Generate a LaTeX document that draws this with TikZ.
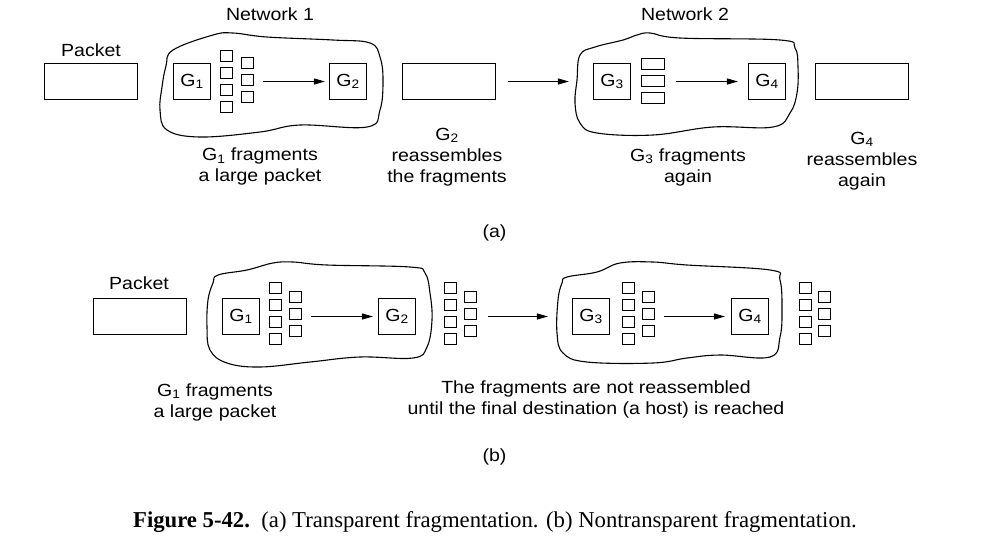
\documentclass[tikz,border=0pt]{standalone}
\usepackage{fontspec}
\setmainfont{Liberation Sans}[FakeStretch=1.11]
\newfontfamily\capfont{Liberation Serif}
\usetikzlibrary{positioning,arrows.meta}

\begin{document}
\begin{tikzpicture}[x=1pt,y=-1pt,line width=1.1pt,font=\fontsize{17.6}{21}\selectfont,>={Triangle[length=11pt,width=6pt]}]
	\tikzstyle{pbox}=[draw, minimum width=93pt, minimum height=36pt, inner sep=0pt]
	\tikzstyle{gw}=[draw, minimum width=37pt, minimum height=36pt, inner sep=0pt]
	\tikzstyle{frag}=[draw, minimum width=12pt, minimum height=11pt, inner sep=0pt]
	\tikzstyle{wfrag}=[draw, minimum width=23pt, minimum height=11pt, inner sep=0pt]
	\tikzstyle{lbl}=[anchor=base, align=center, inner sep=0pt]
	\tikzstyle{cloud}=[draw, smooth cycle, tension=0.65]
	\useasboundingbox (0,0) rectangle (993,542);
	% (a) transparent
		\draw plot[cloud] coordinates {(173,50) (213,35) (233,33) (267,37) (333,40) (370,43) (380,57) (383,80) (380,110) (367,127) (300,125) (260,132) (200,137) (167,130) (160,110) (162,87) (166,66)};
		\draw plot[cloud] coordinates {(580,55) (595,47) (623,40) (637,35) (650,33) (680,38) (780,40) (795,48) (798,67) (797,93) (790,113) (773,127) (713,127) (653,135) (597,133) (580,123) (575,103) (577,80)};
		\node[pbox] (pa1) at (91,81.5) {};
		\node[lbl] (pa1l) at (91,56) {Packet};
		\node[gw] (g1a) at (192,81.5) {G\textsubscript{1}};
		\node[gw] (g2a) at (348,81.5) {G\textsubscript{2}};
		\node[pbox] (pa2) at (449,81.5) {};
		\node[gw] (g3a) at (612,81.5) {G\textsubscript{3}};
		\node[gw] (g4a) at (767,81.5) {G\textsubscript{4}};
		\node[pbox] (pa3) at (862,81.5) {};
		\node[frag] (a11) at (226.5,56) {};
		\node[frag] (a12) [below=4.9pt of a11] {};
		\node[frag] (a13) [below=4.9pt of a12] {};
		\node[frag] (a14) [below=4.9pt of a13] {};
		\node[frag] (a21) at (247.5,63) {};
		\node[frag] (a22) [below=4.9pt of a21] {};
		\node[frag] (a23) [below=4.9pt of a22] {};
		\node[wfrag] (w1) at (653,64) {};
		\node[wfrag] (w2) [below=4.9pt of w1] {};
		\node[wfrag] (w3) [below=4.9pt of w2] {};
			\draw[->, shorten <=9pt, shorten >=4pt] (a22.east |- g1a) -- (g2a);
			\draw[->, shorten <=12pt, shorten >=24pt] (pa2) -- (g3a);
			\draw[->, shorten <=11pt, shorten >=10pt] (w2.east |- g3a) -- (g4a);
			\node[lbl] (net1) at (270,20) {Network 1};
			\node[lbl] (net2) at (685,20) {Network 2};
			\node[lbl] (txa1) at (260,181.7) {G\textsubscript{1} fragments\\a large packet};
			\node[lbl] (txa2) at (447,182) {G\textsubscript{2}\\reassembles\\the fragments};
			\node[lbl] (txa3) at (688,182) {G\textsubscript{3} fragments\\again};
			\node[lbl] (txa4) at (862,186) {G\textsubscript{4}\\reassembles\\again};
			\node[lbl] (capa) at (494.5,237) {(a)};
	% (b) nontransparent
		\draw plot[cloud] coordinates {(218,275) (247,270) (273,263) (293,262) (327,265) (410,267) (425,273) (430,293) (432,320) (427,347) (413,358) (360,357) (310,362) (260,367) (227,363) (210,350) (207,327) (208,300) (213,283)};
		\draw plot[cloud] coordinates {(567,277) (597,272) (620,263) (653,262) (687,265) (770,270) (780,280) (782,310) (780,337) (770,357) (720,355) (687,358) (653,363) (587,362) (563,353) (557,333) (558,300) (562,283)};
		\node[pbox] (pb1) at (140,316.5) {};
		\node[lbl] (pb1l) at (139,289) {Packet};
		\node[gw] (g1b) at (241,316.5) {G\textsubscript{1}};
		\node[gw] (g2b) at (397,316.5) {G\textsubscript{2}};
		\node[gw] (g3b) at (591,316.5) {G\textsubscript{3}};
		\node[gw] (g4b) at (750,316.5) {G\textsubscript{4}};
		\node[frag] (s11) at (275.5,288) {};
		\node[frag] (s12) [below=4.9pt of s11] {};
		\node[frag] (s13) [below=4.9pt of s12] {};
		\node[frag] (s14) [below=4.9pt of s13] {};
		\node[frag] (s21) at (295.5,297) {};
		\node[frag] (s22) [below=4.9pt of s21] {};
		\node[frag] (s23) [below=4.9pt of s22] {};
		\node[frag] (t11) at (450.5,288) {};
		\node[frag] (t12) [below=4.9pt of t11] {};
		\node[frag] (t13) [below=4.9pt of t12] {};
		\node[frag] (t14) [below=4.9pt of t13] {};
		\node[frag] (t21) at (470.5,297) {};
		\node[frag] (t22) [below=4.9pt of t21] {};
		\node[frag] (t23) [below=4.9pt of t22] {};
		\node[frag] (u11) at (628.5,288) {};
		\node[frag] (u12) [below=4.9pt of u11] {};
		\node[frag] (u13) [below=4.9pt of u12] {};
		\node[frag] (u14) [below=4.9pt of u13] {};
		\node[frag] (u21) at (648.5,297) {};
		\node[frag] (u22) [below=4.9pt of u21] {};
		\node[frag] (u23) [below=4.9pt of u22] {};
		\node[frag] (v11) at (805.5,288) {};
		\node[frag] (v12) [below=4.9pt of v11] {};
		\node[frag] (v13) [below=4.9pt of v12] {};
		\node[frag] (v14) [below=4.9pt of v13] {};
		\node[frag] (v21) at (824.5,297) {};
		\node[frag] (v22) [below=4.9pt of v21] {};
		\node[frag] (v23) [below=4.9pt of v22] {};
			\draw[->, shorten <=9pt, shorten >=5pt] (s22.east |- g1b) -- (g2b);
			\draw[->, shorten <=11pt, shorten >=24pt] (t22.east |- g2b) -- (g3b);
			\draw[->, shorten <=9pt, shorten >=6pt] (u22.east |- g3b) -- (g4b);
			\node[lbl] (txb1) at (215,417) {G\textsubscript{1} fragments\\a large packet};
			\node[lbl] (txb2) at (596,414) {The fragments are not reassembled\\until the final destination (a host) is reached};
			\node[lbl] (capb) at (494.5,461) {(b)};
	% caption
			\node[lbl, font=\capfont\fontsize{22.7}{27}\selectfont] (fig) at (495,527) {\textbf{Figure 5-42.}\ \ (a) Transparent fragmentation. (b) Nontransparent fragmentation.};
\end{tikzpicture}
\end{document}
